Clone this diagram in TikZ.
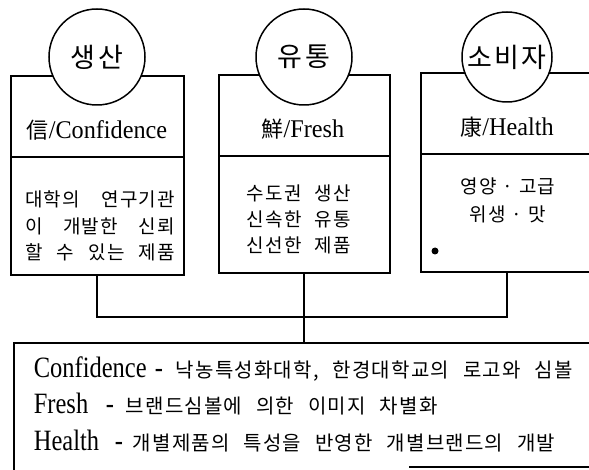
\documentclass[tikz,border=0pt]{standalone}
\usepackage{fontspec}
\setmainfont{Liberation Serif}
\newfontfamily\kr{Noto Sans CJK KR}
\newfontfamily\krls[LetterSpace=6]{Noto Sans CJK KR}
\newfontfamily\tmsA[FakeStretch=0.95]{Liberation Serif}
\newfontfamily\tmsB[FakeStretch=0.83]{Liberation Serif}
\newcommand{\ksp}{\hspace{0.7em}}
\begin{document}
\begin{tikzpicture}[x=1pt,y=-1pt,line width=1.7pt,
  box/.style={draw,rectangle,inner sep=0pt,anchor=north west},
  circ/.style={draw,circle,fill=white,inner sep=0pt,line width=1.5pt,
    font=\fontsize{27}{30}\selectfont\kr},
  head/.style={inner sep=0pt,font=\fontsize{25.5}{30}\selectfont\tmsA},
  body/.style={inner sep=0pt,font=\fontsize{19}{22}\selectfont\krls},
  eng/.style={inner sep=0pt,font=\fontsize{29.5}{32}\selectfont\tmsB},
  kbot/.style={inner sep=0pt,font=\fontsize{20}{22}\selectfont\krls}]
\useasboundingbox (0,0) rectangle (589,470);
\clip (0,0) rectangle (589,470);
% boxes
\node[box,minimum width=173pt,minimum height=199pt] (lbox) at (10,75) {};
\node[box,minimum width=171pt,minimum height=198pt] (mbox) at (218,74) {};
\node[box,minimum width=190pt,minimum height=199pt] (rbox) at (420,72) {};
\node[box,minimum width=600pt,minimum height=140pt] (bbox) at (13,342) {};
% dividers
\draw (lbox.west |- 0,157) -- (lbox.east |- 0,157);
\draw (mbox.west |- 0,156) -- (mbox.east |- 0,156);
\draw (rbox.west |- 0,154) -- (rbox.east |- 0,154);
% circles
\node[circ,minimum size=96pt] (lcirc) at (97,57) {생\hspace{3pt}산};
\node[circ,minimum size=96pt] (mcirc) at (304,57) {유\hspace{3pt}통};
\node[circ,minimum size=90pt] (rcirc) at (507,57) {소\hspace{2pt}비\hspace{2pt}자};
% headings
\node[head] (lhead) at (97,130) {{\kr\fontsize{22}{22}\selectfont 信}/Confidence};
\node[head] (mhead) at (303,129) {{\kr\fontsize{22}{22}\selectfont 鮮}/Fresh};
\node[head] (rhead) at (507,127) {{\kr\fontsize{22}{22}\selectfont 康}/Health};
% left body
\node[body,anchor=base] (l1) at (100,207) {\makebox[150pt][s]{대학의 연구기관}};
\node[body,anchor=base] (l2) at (100,233.5) {\makebox[150pt][s]{이 개발한 신뢰}};
\node[body,anchor=base] (l3) at (100,260) {\makebox[150pt][s]{할 수 있는 제품}};
% middle body
\node[body,anchor=base] (m1) at (299,201) {수도권\ksp 생산};
\node[body,anchor=base] (m2) at (299,227) {신속한\ksp 유통};
\node[body,anchor=base] (m3) at (299,253) {신선한\ksp 제품};
% right body
\node[body,anchor=base] (r1) at (508,194) {영양\hspace{6pt}·\hspace{6pt}고급};
\node[body,anchor=base] (r2) at (508,222) {위생\hspace{6pt}·\hspace{6pt}맛};
\node[circle,fill=black,draw=none,minimum size=7pt,inner sep=0pt] (dot) at (435,251) {};
% connectors
\coordinate (hub) at (303,317);
\draw (lcirc |- lbox.south) |- (hub) -| (rcirc |- rbox.south);
\draw (mcirc |- mbox.south) -- (mcirc |- bbox.north);
% bottom box partial bottom edge
\coordinate (bcut) at (409,467);
\draw[line width=1.2pt] (bcut) -- (bcut -| bbox.east);
% bottom text
\node[eng,anchor=base west] (e1) at (33,377) {Confidence};
\node[eng,anchor=base] (h1) at (159,377) {-};
\node[kbot,anchor=base west] (k1) at (175,377) {낙농특성화대학,\ksp 한경대학교의\ksp 로고와\ksp 심볼};
\node[eng,anchor=base west] (e2) at (33,413) {Fresh};
\node[eng,anchor=base] (h2) at (110,413) {-};
\node[kbot,anchor=base west] (k2) at (125,413) {브랜드심볼에\ksp 의한\ksp 이미지\ksp 차별화};
\node[eng,anchor=base west] (e3) at (33,450) {Health};
\node[eng,anchor=base] (h3) at (119,450) {-};
\node[kbot,anchor=base west] (k3) at (132,450) {개별제품의\ksp 특성을\ksp 반영한\ksp 개별브랜드의\ksp 개발};
\end{tikzpicture}
\end{document}
